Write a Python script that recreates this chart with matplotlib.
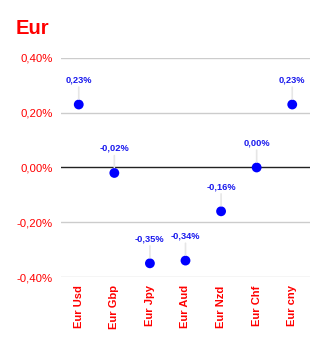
import matplotlib
matplotlib.use("Agg")
import matplotlib.pyplot as plt
from matplotlib.ticker import FuncFormatter

pairs = ["Eur Usd", "Eur Gbp", "Eur Jpy", "Eur Aud", "Eur Nzd", "Eur Chf", "Eur cny"]
changes = [0.23, -0.02, -0.35, -0.34, -0.16, 0.00, 0.23]
yticks = [-0.40, -0.20, 0.00, 0.20, 0.40]

RED = "#ff0000"
BLUE = "#0000ff"
FONT = ["Liberation Sans", "DejaVu Sans"]

def pct(v, _=None):
    return f"{v:.2f}%".replace(".", ",").replace("-0,00", "0,00")

fig = plt.figure(figsize=(3.26, 3.43), dpi=100)
ax = fig.add_axes([0.187, 0.1924, 0.764, 0.6386])

x = list(range(len(pairs)))
ax.set_xlim(-0.5, len(pairs) - 0.5)
ax.set_ylim(-0.40, 0.40)
ax.set_yticks(yticks)
ax.yaxis.set_major_formatter(FuncFormatter(pct))

for t in yticks:
    ax.axhline(t, color="#222222" if t == 0 else "#cccccc",
               lw=1.0, zorder=1)

ax.scatter(x, changes, s=50, color=BLUE, zorder=3, edgecolors="none")

for xi, v in zip(x, changes):
    ax.annotate(pct(v), (xi, v), xytext=(0, 14.5), textcoords="offset points",
                ha="center", va="bottom", fontsize=6.7, fontweight="bold",
                color="#1a1aee", family=FONT,
                arrowprops=dict(arrowstyle="-", color="#e6e6e6", lw=1.2,
                                shrinkA=0, shrinkB=4))

ax.set_xticks(x)
ax.set_xticklabels(pairs, rotation=90, color=RED, fontweight="bold",
                   fontsize=8, family=FONT)
for lbl in ax.get_yticklabels():
    lbl.set_color(RED)
    lbl.set_fontsize(8.2)
    lbl.set_family(FONT)
ax.tick_params(length=0, pad=6)
ax.tick_params(axis="x", pad=6)
for s in ax.spines.values():
    s.set_visible(False)

fig.text(0.049, 0.918, "Eur", color=RED, fontsize=14.5, fontweight="bold",
         family=FONT, ha="left", va="center")

fig.savefig("out.png", dpi=100)
